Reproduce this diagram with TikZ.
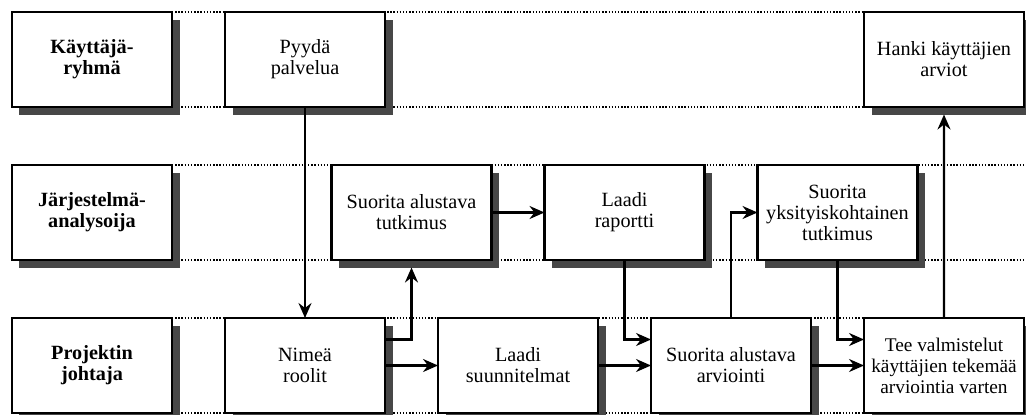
\documentclass[tikz,border=0pt]{standalone}
\usepackage{fontspec}
\setmainfont{Liberation Serif}
\usetikzlibrary{positioning,shadows,arrows.meta,backgrounds}

\begin{document}
\begin{tikzpicture}[
    node distance=1.16cm and 1.06cm,
    stage/.style={draw=black, line width=1.4pt, fill=white, rectangle, minimum width=3.2cm, minimum height=1.9cm, inner sep=1pt, outer sep=0pt, align=center, font=\fontsize{11.5}{12}\selectfont, drop shadow={shadow xshift=0.15cm, shadow yshift=-0.15cm, fill=black!72, opacity=1}},
    actor/.style={stage, font=\fontsize{11.5}{12}\selectfont\bfseries},
    lane/.style={line width=0.9pt, dash pattern=on 0.8pt off 1pt},
    flow/.style={line width=1.3pt, ->, >={Stealth[length=3mm, width=2.6mm, inset=1mm]}}
]
    \useasboundingbox (0,0) rectangle (20.52,-8.28);
    \coordinate (Edge) at (20.52,0);

    \node (Kayttajat) [actor] at (1.84,-1.19) {Käyttäjä-\\ryhmä};
    \node (Analyysi) [actor, below=of Kayttajat] {Järjestelmä-\\analysoija};
    \node (Johtaja) [actor, below=of Analyysi] {Projektin\\johtaja};

    \node (Pyyda) [stage, right=of Kayttajat] {Pyydä\\palvelua};
    \node (Nimea) [stage, right=of Johtaja] {Nimeä\\roolit};
    \node (Suunnitelmat) [stage, right=of Nimea] {Laadi\\suunnitelmat};
    \node (Arviointi) [stage, right=of Suunnitelmat] {Suorita alustava\\arviointi};
    \node (Tee) [stage, right=of Arviointi, font=\fontsize{11}{12}\selectfont] {Tee valmistelut\\käyttäjien tekemää\\arviointia varten};

    \node (Tutkimus) [stage, above=of Nimea, xshift=2.13cm] {Suorita alustava\\tutkimus};
    \node (Raportti) [stage, right=of Tutkimus] {Laadi\\raportti};
    \node (Yksi) [stage, right=of Raportti] {Suorita\\yksityiskohtainen\\tutkimus};

    \node (Hanki) [stage, above=of Yksi, xshift=2.13cm] {Hanki käyttäjien\\arviot};

    \begin{scope}[on background layer]
        \draw[lane] (Kayttajat.north east) -- (Kayttajat.north east -| Edge);
        \draw[lane] (Kayttajat.south east) -- (Kayttajat.south east -| Edge);
        \draw[lane] (Analyysi.north east) -- (Analyysi.north east -| Edge);
        \draw[lane] (Analyysi.south east) -- (Analyysi.south east -| Edge);
        \draw[lane] (Johtaja.north east) -- (Johtaja.north east -| Edge);
        \draw[lane] (Johtaja.south east) -- (Johtaja.south east -| Edge);
    \end{scope}

    \draw[flow] (Pyyda.south) -- (Nimea.north);
    \draw[flow] ([yshift=0.52cm]Nimea.east) -| ([yshift=-0.15cm]Tutkimus.south);
    \draw[flow] (Nimea.east) -- (Suunnitelmat.west);
    \draw[flow] (Tutkimus.east) -- (Raportti.west);
    \draw[flow] (Raportti.south) |- ([yshift=0.52cm]Arviointi.west);
    \draw[flow] (Suunnitelmat.east) -- (Arviointi.west);
    \draw[flow] (Arviointi.north) |- (Yksi.west);
    \draw[flow] (Yksi.south) |- ([yshift=0.52cm]Tee.west);
    \draw[flow] (Arviointi.east) -- (Tee.west);
    \draw[flow] (Tee.north) -- ([yshift=-0.15cm]Hanki.south);
\end{tikzpicture}
\end{document}
